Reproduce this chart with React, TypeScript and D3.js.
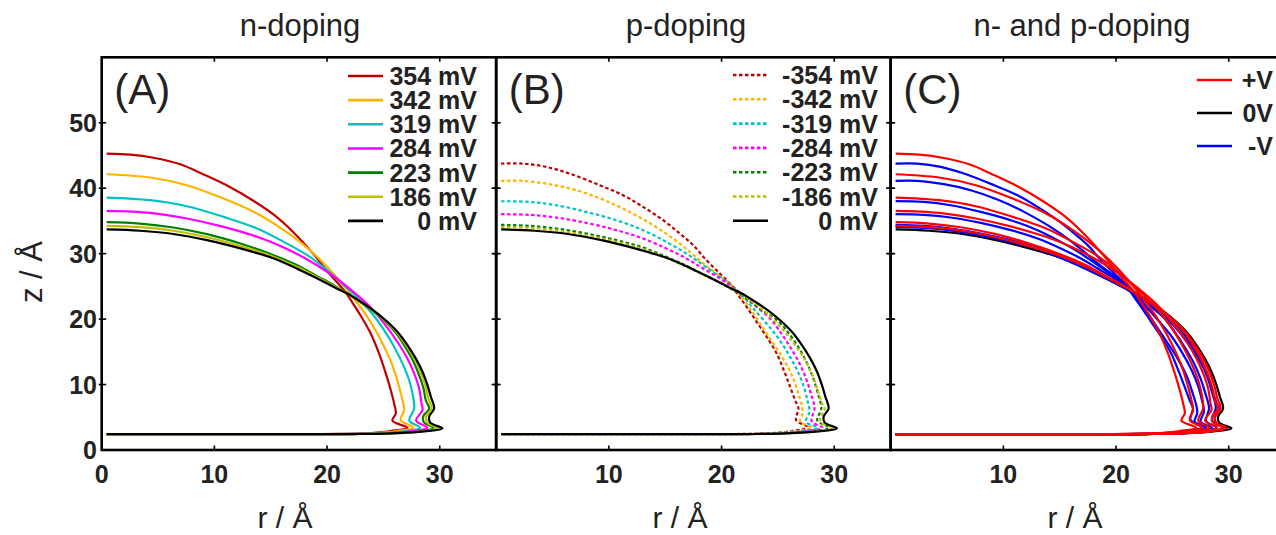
import React from 'react';
import * as d3 from 'd3';

type Pt = [number, number];

// ---- n-doping curves (r, z) ----
const n354: Pt[] = [[0.44,45.29],[2.52,45.12],[4.59,44.65],[6.97,43.65],[9.04,42.1],[11.41,40.15],[13.49,38.05],[15.27,35.95],[17.05,33.2],[18.83,29.85],[20.31,26.72],[21.5,24.43],[22.39,22.13],[23.13,20.1],[23.87,17.81],[24.61,14.76],[25.21,11.7],[25.65,9.16],[25.95,7.12],[26.1,5.6],[25.8,4.47],[27.13,3.4],[25.65,2.9],[23.28,2.54],[19.72,2.44],[0.44,2.44]];
const n342: Pt[] = [[0.44,42.13],[4.3,41.63],[7.56,40.46],[10.82,38.42],[13.79,36.13],[16.16,33.59],[17.94,31.3],[19.72,28.5],[21.2,25.7],[22.39,23.15],[23.57,20.35],[24.46,17.81],[25.35,14.76],[25.95,12.21],[26.39,9.67],[26.69,7.63],[26.84,6.1],[26.54,4.58],[27.65,3.42],[26.24,2.9],[23.87,2.54],[20.31,2.44],[0.44,2.44]];
const n319: Pt[] = [[0.44,38.57],[4.3,38.17],[7.56,37.25],[10.82,35.62],[13.79,33.84],[16.16,31.8],[18.24,29.77],[20.01,27.48],[21.5,25.19],[22.68,23.31],[23.87,21.12],[25.06,18.32],[25.95,15.78],[26.69,13.23],[27.28,10.69],[27.58,8.65],[27.73,6.36],[27.3,4.5],[28.25,3.41],[26.84,2.85],[24.46,2.54],[20.9,2.44],[0.44,2.44]];
const n284: Pt[] = [[0.44,36.54],[4.3,36.23],[7.56,35.37],[10.82,34.09],[13.79,32.57],[16.16,30.94],[18.24,29.11],[20.01,27.23],[21.5,25.34],[22.68,23.66],[23.87,21.78],[25.06,19.34],[26.24,16.54],[27.13,13.99],[27.73,11.7],[28.17,9.41],[28.38,7.12],[28.47,6.1],[27.9,4.5],[28.9,3.41],[27.43,2.85],[25.06,2.54],[21.5,2.44],[0.44,2.44]];
const n223: Pt[] = [[0.44,34.81],[3.41,34.6],[6.37,34.0],[9.34,32.98],[12.3,31.55],[15.27,29.77],[17.35,28.24],[19.13,26.56],[20.6,25.19],[21.8,23.92],[22.98,22.55],[24.17,21.1],[25.35,19.35],[26.24,17.6],[26.98,15.6],[27.67,13.5],[28.17,11.45],[28.56,9.4],[28.76,7.6],[29.06,6.3],[28.55,5.2],[28.6,4.2],[29.45,3.4],[28.32,2.85],[25.65,2.54],[22.09,2.44],[0.44,2.44]];
const n186: Pt[] = [[0.44,34.25],[3.41,34.05],[6.37,33.5],[9.34,32.5],[12.3,31.15],[15.27,29.5],[17.35,27.95],[19.13,26.4],[20.6,25.05],[21.8,23.9],[22.98,22.6],[24.17,21.18],[25.35,19.48],[26.24,17.85],[27.06,15.85],[27.8,13.8],[28.33,11.75],[28.74,9.75],[28.98,7.9],[29.28,6.36],[28.8,5.15],[28.9,4.15],[29.8,3.38],[28.5,2.85],[25.65,2.54],[22.3,2.44],[0.44,2.44]];
const v0: Pt[] = [[0.44,33.7],[3.41,33.5],[6.37,33.0],[9.34,32.06],[12.3,30.8],[15.27,29.26],[17.35,27.7],[19.13,26.2],[20.6,24.9],[21.8,23.9],[22.98,22.65],[24.17,21.27],[25.35,19.6],[26.24,18.06],[27.13,16.03],[27.87,14.0],[28.47,11.96],[28.91,9.92],[29.21,8.14],[29.5,6.36],[29.06,5.1],[29.15,4.17],[30.24,3.3],[28.62,2.85],[25.65,2.54],[22.68,2.44],[0.44,2.44]];

// ---- p-doping curves (r, z) ----
const p354: Pt[] = [[0.43,43.76],[2.35,43.76],[4.43,43.26],[6.5,42.24],[9.17,40.46],[11.25,38.93],[13.03,37.15],[14.81,35.11],[16.29,33.08],[17.48,31.3],[18.66,29.0],[19.85,26.97],[20.74,25.44],[21.48,23.66],[22.22,21.88],[23.11,19.59],[24.0,17.3],[24.89,14.76],[25.63,11.7],[26.08,9.67],[26.52,7.63],[26.82,6.36],[26.61,4.58],[27.6,3.5],[26.2,2.9],[24.0,2.55],[21.0,2.44],[0.43,2.44]];
const p342: Pt[] = [[0.43,41.12],[2.35,41.12],[4.72,40.61],[7.1,39.69],[9.47,38.27],[11.84,36.38],[13.92,34.35],[15.7,32.31],[17.18,30.28],[18.37,28.5],[19.55,26.97],[20.74,25.44],[21.63,23.66],[22.52,21.63],[23.41,19.34],[24.4,16.79],[25.45,14.0],[26.3,11.19],[26.8,8.65],[27.15,6.61],[27.2,5.6],[26.97,4.32],[28.0,3.45],[26.7,2.9],[24.5,2.55],[21.5,2.44],[0.43,2.44]];
const p319: Pt[] = [[0.43,38.01],[2.95,37.91],[5.32,37.4],[7.99,36.38],[10.66,35.11],[13.03,33.59],[15.1,31.8],[16.88,30.02],[18.37,28.24],[19.85,26.46],[21.04,24.93],[21.93,23.41],[22.82,21.63],[23.85,19.59],[24.95,17.3],[25.9,14.76],[26.7,12.21],[27.3,9.67],[27.65,7.38],[27.8,5.85],[27.5,4.32],[28.5,3.41],[27.1,2.88],[25.0,2.55],[22.0,2.44],[0.43,2.44]];
const p284: Pt[] = [[0.43,36.03],[2.95,35.93],[5.32,35.52],[7.99,34.7],[10.66,33.59],[13.03,32.31],[15.1,30.79],[16.88,29.26],[18.37,27.73],[19.85,26.21],[21.04,24.83],[22.22,23.31],[23.11,21.88],[24.3,20.1],[25.2,18.06],[26.1,15.7],[26.9,13.3],[27.5,10.9],[27.95,8.5],[28.25,6.4],[28.0,4.4],[28.95,3.41],[27.5,2.88],[25.4,2.55],[22.5,2.44],[0.43,2.44]];
const p223: Pt[] = [[0.43,34.4],[2.95,34.25],[5.32,33.84],[7.99,33.08],[10.66,32.06],[13.03,30.94],[15.1,29.51],[16.88,28.14],[18.37,26.82],[19.85,25.54],[21.04,24.43],[22.22,23.15],[23.41,21.55],[25.0,19.75],[26.0,17.75],[26.9,15.5],[27.6,13.2],[28.15,10.9],[28.55,8.6],[28.85,6.4],[28.5,4.5],[29.55,3.41],[28.1,2.86],[25.8,2.55],[22.8,2.44],[0.43,2.44]];
const p186: Pt[] = [[0.43,34.1],[2.95,33.95],[5.32,33.55],[7.99,32.8],[10.66,31.8],[13.03,30.7],[15.1,29.35],[16.88,28.0],[18.37,26.8],[19.85,25.65],[21.04,24.6],[22.22,23.3],[23.41,21.75],[24.59,19.95],[25.63,18.0],[26.6,15.85],[27.45,13.6],[28.1,11.3],[28.55,9.0],[28.9,7.2],[29.15,6.2],[28.75,4.9],[28.85,4.1],[29.85,3.38],[28.4,2.85],[26.0,2.55],[23.0,2.44],[0.43,2.44]];

const nLabels = ['354 mV', '342 mV', '319 mV', '284 mV', '223 mV', '186 mV', '0 mV'];
const pLabels = ['-354 mV', '-342 mV', '-319 mV', '-284 mV', '-223 mV', '-186 mV', '0 mV'];
const seriesColors = ['#c00000', '#ffb400', '#00c4c4', '#ff00ff', '#008000', '#bfbf00', '#000000'];
const nSeries = [n354, n342, n319, n284, n223, n186, v0];
const pSeries = [p354, p342, p319, p284, p223, p186, v0];
const cLabels = ['+V', '0V', '-V'];
const cColors = ['#ff0000', '#000000', '#0000ff'];

const titles = ['n-doping', 'p-doping', 'n- and p-doping'];
const panelTags = ['(A)', '(B)', '(C)'];
const yTicks = [0, 10, 20, 30, 40, 50];
const xTicksFirst = [0, 10, 20, 30];
const xTicksOther = [10, 20, 30];
const xTickMarks = [10, 20, 30];
const yTickMarks = [10, 20, 30, 40, 50];

const FONT = "'Liberation Sans', Arial, Helvetica, sans-serif";
const panelLefts = [101.7, 496.2, 890.7];
const PW = 394.4;
const TOP = 57.3;
const BOTTOM = 450;

export default function App() {
  const y = d3.scaleLinear().domain([0, 60]).range([BOTTOM, TOP]);
  const xs = panelLefts.map((l) => d3.scaleLinear().domain([0, 35]).range([l, l + PW]));
  const lineFor = (x: d3.ScaleLinear<number, number>) =>
    d3.line<Pt>().x((d) => x(d[0])).y((d) => y(d[1])).curve(d3.curveCatmullRom.alpha(0.5));

  const renderFrame = (i: number) => {
    const x = xs[i];
    const l = x(0), r = x(35);
    return (
      <g key={'f' + i}>
        <rect x={l} y={TOP} width={r - l} height={BOTTOM - TOP} fill="none" stroke="#000" strokeWidth={2.6} />
        {xTickMarks.map((t) => (
          <g key={'xt' + t}>
            <line x1={x(t)} x2={x(t)} y1={BOTTOM} y2={BOTTOM - 4.5} stroke="#000" strokeWidth={1.6} />
            <line x1={x(t)} x2={x(t)} y1={TOP} y2={TOP + 4.5} stroke="#000" strokeWidth={1.6} />
          </g>
        ))}
        {yTickMarks.map((t) => (
          <g key={'yt' + t}>
            <line x1={l - 3} x2={l + 4.5} y1={y(t)} y2={y(t)} stroke="#000" strokeWidth={1.6} />
            <line x1={r - 4.5} x2={r + 3} y1={y(t)} y2={y(t)} stroke="#000" strokeWidth={1.6} />
          </g>
        ))}
        {(i === 0 ? xTicksFirst : xTicksOther).map((t) => (
          <text key={'xl' + t} x={x(t)} y={483} textAnchor="middle" fontFamily={FONT} fontWeight="bold" fontSize={25} fill="#222">
            {t}
          </text>
        ))}
        <text x={l + 12.5} y={104} fontFamily={FONT} fontSize={42} fill="#222">{panelTags[i]}</text>
        <text x={[300, 686, 1082][i]} y={36} textAnchor="middle" fontFamily={FONT} fontSize={31} fill="#222">{titles[i]}</text>
        <text x={[285, 680, 1075][i]} y={528} textAnchor="middle" fontFamily={FONT} fontSize={30} fill="#222">r / Å</text>
      </g>
    );
  };

  const lA = lineFor(xs[0]);
  const lB = lineFor(xs[1]);
  const lC = lineFor(xs[2]);

  return (
    <svg width={1276} height={535} style={{ position: 'absolute', left: 0, top: 0, background: '#fff' }}>
      <rect x={0} y={0} width={1276} height={535} fill="#fff" />
      {/* y axis labels */}
      {yTicks.map((t) => (
        <text key={'yl' + t} x={97} y={y(t) + 9} textAnchor="end" fontFamily={FONT} fontWeight="bold" fontSize={25} fill="#222">
          {t}
        </text>
      ))}
      <text transform="translate(42,272) rotate(-90)" textAnchor="middle" fontFamily={FONT} fontSize={31} fill="#222">z / Å</text>

      {/* Panel A curves */}
      {nSeries.map((s, k) => (
        <path key={'a' + k} d={lA(s) || ''} fill="none" stroke={seriesColors[k]} strokeWidth={2.2} strokeLinejoin="round" />
      ))}
      {/* Panel B curves */}
      {pSeries.map((s, k) => (
        <path key={'b' + k} d={lB(s) || ''} fill="none" stroke={seriesColors[k]} strokeWidth={2.2}
          strokeDasharray={k === 6 ? undefined : '3.5,2.5'} strokeLinejoin="round" />
      ))}
      {/* Panel C curves */}
      <path d={lC(v0) || ''} fill="none" stroke={cColors[1]} strokeWidth={2.2} />
      {pSeries.slice(0, 6).map((s, k) => (
        <path key={'cb' + k} d={lC(s) || ''} fill="none" stroke={cColors[2]} strokeWidth={2.2} strokeLinejoin="round" />
      ))}
      {nSeries.slice(0, 6).map((s, k) => (
        <path key={'cr' + k} d={lC(s) || ''} fill="none" stroke={cColors[0]} strokeWidth={2.2} strokeLinejoin="round" />
      ))}

      {[0, 1, 2].map(renderFrame)}

      {/* Legend A */}
      {nLabels.map((lab, k) => {
        const yy = 76 + 24.15 * k;
        return (
          <g key={'la' + k}>
            <line x1={348} x2={383} y1={yy} y2={yy} stroke={seriesColors[k]} strokeWidth={2.6} />
            <text x={477} y={yy + 9} textAnchor="end" fontFamily={FONT} fontWeight="bold" fontSize={25} fill="#222">{lab}</text>
          </g>
        );
      })}
      {/* Legend B */}
      {pLabels.map((lab, k) => {
        const yy = 75 + 24.3 * k;
        return (
          <g key={'lb' + k}>
            <line x1={733} x2={768} y1={yy} y2={yy} stroke={seriesColors[k]} strokeWidth={2.6}
              strokeDasharray={k === 6 ? undefined : '3.5,2.5'} />
            <text x={878} y={yy + 9} textAnchor="end" fontFamily={FONT} fontWeight="bold" fontSize={25} fill="#222">{lab}</text>
          </g>
        );
      })}
      {/* Legend C */}
      {cLabels.map((lab, k) => {
        const yy = 80 + 33 * k;
        return (
          <g key={'lc' + k}>
            <line x1={1197} x2={1232} y1={yy} y2={yy} stroke={cColors[k]} strokeWidth={2.6} />
            <text x={1273} y={yy + 9} textAnchor="end" fontFamily={FONT} fontWeight="bold" fontSize={25} fill="#222">{lab}</text>
          </g>
        );
      })}
    </svg>
  );
}
